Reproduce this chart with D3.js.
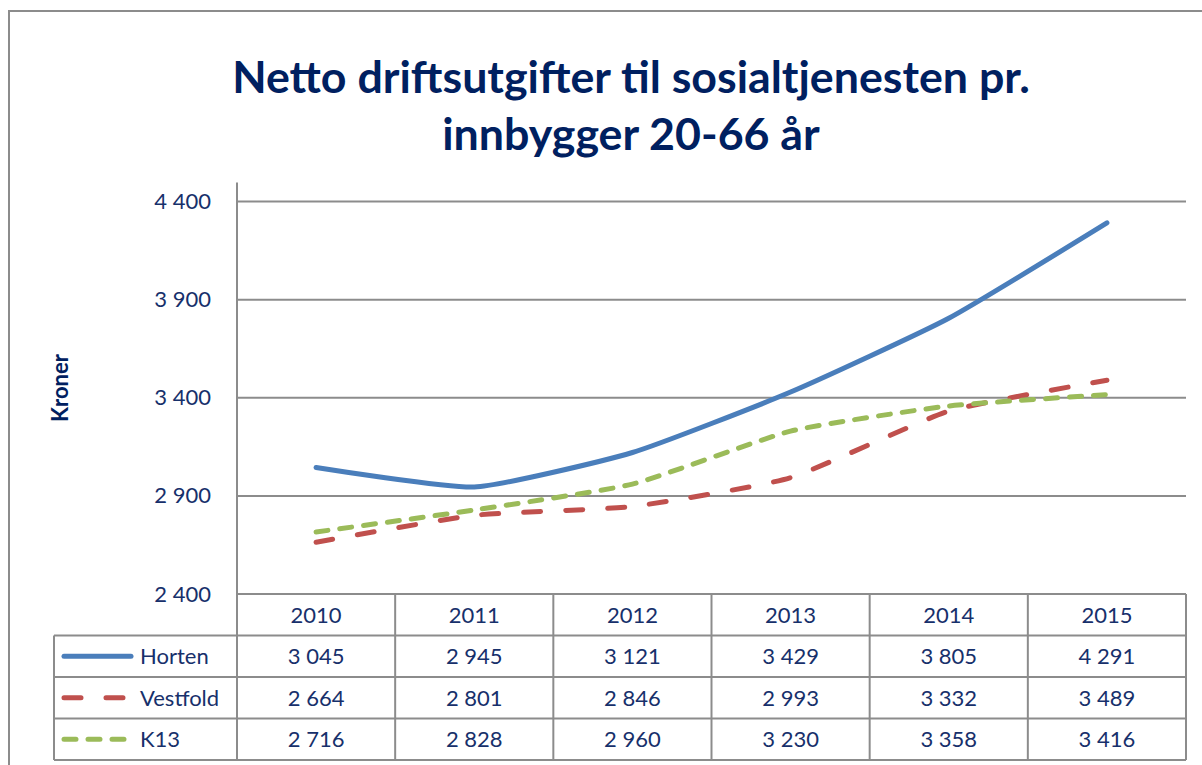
<!DOCTYPE html>
<html>
<head>
<meta charset="utf-8">
<script src="https://cdn.jsdelivr.net/npm/d3@7"></script>
<style>
  body { margin: 0; background: #fff; }
  svg { display: block; font-family: Lato, "Open Sans", sans-serif; }
</style>
</head>
<body>
<div id="chart"></div>
<script>
// Data
var years = ["2010", "2011", "2012", "2013", "2014", "2015"];
var horten = [3045, 2945, 3121, 3429, 3805, 4291];
var vestfold = [2664, 2801, 2846, 2993, 3332, 3489];
var k13 = [2716, 2828, 2960, 3230, 3358, 3416];
var seriesNames = ["Horten", "Vestfold", "K13"];
var yTicks = [2400, 2900, 3400, 3900, 4400];

var W = 1202, H = 765;
var plotLeft = 237, plotRight = 1186, plotTop = 201.5, plotBottom = 594;
var rowH = 41.5;
var navy = "#002060", textCol = "#17306b", grid = "#8c8c8c";

var nb = d3.formatLocale({decimal: ",", thousands: " ", grouping: [3], currency: ["", ""]});
var fmt = nb.format(",d");

var svg = d3.select("#chart").append("svg")
  .attr("width", W)
  .attr("height", H);

// outer frame
svg.append("rect")
  .attr("x", 9).attr("y", 11)
  .attr("width", 1400).attr("height", 900)
  .attr("fill", "none")
  .attr("stroke", grid)
  .attr("stroke-width", 2);

// Title
var title = svg.append("text")
  .attr("text-anchor", "middle")
  .attr("fill", navy)
  .attr("font-weight", 700);
title.append("tspan").attr("x", 631).attr("y", 93).text("Netto driftsutgifter til sosialtjenesten pr.");
title.append("tspan").attr("x", 631).attr("y", 150).text("innbygger 20-66 år");
title.attr("font-size", 43);
var tw = title.select("tspan").node().getComputedTextLength();
title.attr("font-size", 43 * 798 / tw);

// Scales
var x = d3.scaleBand().domain(years).range([plotLeft, plotRight]);
var y = d3.scaleLinear().domain([2400, 4400]).range([plotBottom, plotTop]);
var cx = function(d) { return x(d) + x.bandwidth() / 2; };

// Gridlines
svg.append("g")
  .selectAll("line")
  .data(yTicks)
  .enter().append("line")
    .attr("x1", plotLeft).attr("x2", plotRight)
    .attr("y1", function(d) { return y(d); })
    .attr("y2", function(d) { return y(d); })
    .attr("stroke", grid)
    .attr("stroke-width", 2);

// Y axis
var yAxis = svg.append("g")
  .attr("transform", "translate(" + plotLeft + ",0)")
  .call(d3.axisLeft(y).tickValues(yTicks).tickFormat(fmt).tickSize(0).tickPadding(26));
yAxis.select(".domain").remove();
yAxis.selectAll("text")
  .attr("font-size", 22)
  .attr("fill", textCol)
  .attr("font-family", "Lato, sans-serif");
svg.append("line")
  .attr("x1", plotLeft).attr("x2", plotLeft)
  .attr("y1", plotTop - 19).attr("y2", plotBottom + 4 * rowH)
  .attr("stroke", grid).attr("stroke-width", 2);

// Y label
svg.append("text")
  .attr("transform", "translate(68,388) rotate(-90)")
  .attr("text-anchor", "middle")
  .attr("font-size", 22)
  .attr("font-weight", 700)
  .attr("fill", navy)
  .text("Kroner");

// Lines
var allSeries = [horten, vestfold, k13];
var colors = ["#4a7ebb", "#c0504d", "#9bbb59"];
var dashes = [null, "17,25", "12,12"];

var line = d3.line()
  .x(function(d, i) { return cx(years[i]); })
  .y(function(d) { return y(d); })
  .curve(d3.curveCardinal.tension(0.5));

// draw red, green, then blue on top
[1, 2, 0].forEach(function(s) {
  svg.append("path")
    .datum(allSeries[s])
    .attr("d", line)
    .attr("fill", "none")
    .attr("stroke", colors[s])
    .attr("stroke-width", 5)
    .attr("stroke-linecap", "round")
    .attr("stroke-linejoin", "round")
    .attr("stroke-dasharray", dashes[s]);
});

// Data table
var tableLeft = 54;
var tbl = svg.append("g");
// horizontal lines
d3.range(1, 5).forEach(function(r) {
  tbl.append("line")
    .attr("x1", tableLeft).attr("x2", plotRight)
    .attr("y1", plotBottom + r * rowH).attr("y2", plotBottom + r * rowH)
    .attr("stroke", grid).attr("stroke-width", 2);
});
tbl.append("line")
  .attr("x1", plotLeft).attr("x2", plotRight)
  .attr("y1", plotBottom).attr("y2", plotBottom)
  .attr("stroke", grid).attr("stroke-width", 2);
// vertical lines
tbl.append("line")
  .attr("x1", tableLeft).attr("x2", tableLeft)
  .attr("y1", plotBottom + rowH).attr("y2", plotBottom + 4 * rowH)
  .attr("stroke", grid).attr("stroke-width", 2);
years.forEach(function(yr) {
  tbl.append("line")
    .attr("x1", x(yr) + x.bandwidth()).attr("x2", x(yr) + x.bandwidth())
    .attr("y1", plotBottom).attr("y2", plotBottom + 4 * rowH)
    .attr("stroke", grid).attr("stroke-width", 2);
});

// header
tbl.selectAll(".yr")
  .data(years)
  .enter().append("text")
    .attr("x", cx)
    .attr("y", plotBottom + rowH / 2)
    .attr("dy", "0.36em")
    .attr("text-anchor", "middle")
    .attr("font-size", 22)
    .attr("fill", textCol)
    .text(function(d) { return d; });

// rows
allSeries.forEach(function(vals, s) {
  var ry = plotBottom + (s + 1) * rowH + rowH / 2;
  tbl.selectAll(".v" + s)
    .data(vals)
    .enter().append("text")
      .attr("x", function(d, i) { return cx(years[i]); })
      .attr("y", ry)
      .attr("dy", "0.36em")
      .attr("text-anchor", "middle")
      .attr("font-size", 22)
      .attr("fill", textCol)
      .text(fmt);
  tbl.append("line")
    .attr("x1", 64).attr("x2", 131)
    .attr("y1", ry).attr("y2", ry)
    .attr("stroke", colors[s])
    .attr("stroke-width", 5)
    .attr("stroke-linecap", "round")
    .attr("stroke-dasharray", dashes[s]);
  tbl.append("text")
    .attr("x", 140)
    .attr("y", ry)
    .attr("dy", "0.36em")
    .attr("font-size", 22)
    .attr("fill", textCol)
    .text(seriesNames[s]);
});
</script>
</body>
</html>
